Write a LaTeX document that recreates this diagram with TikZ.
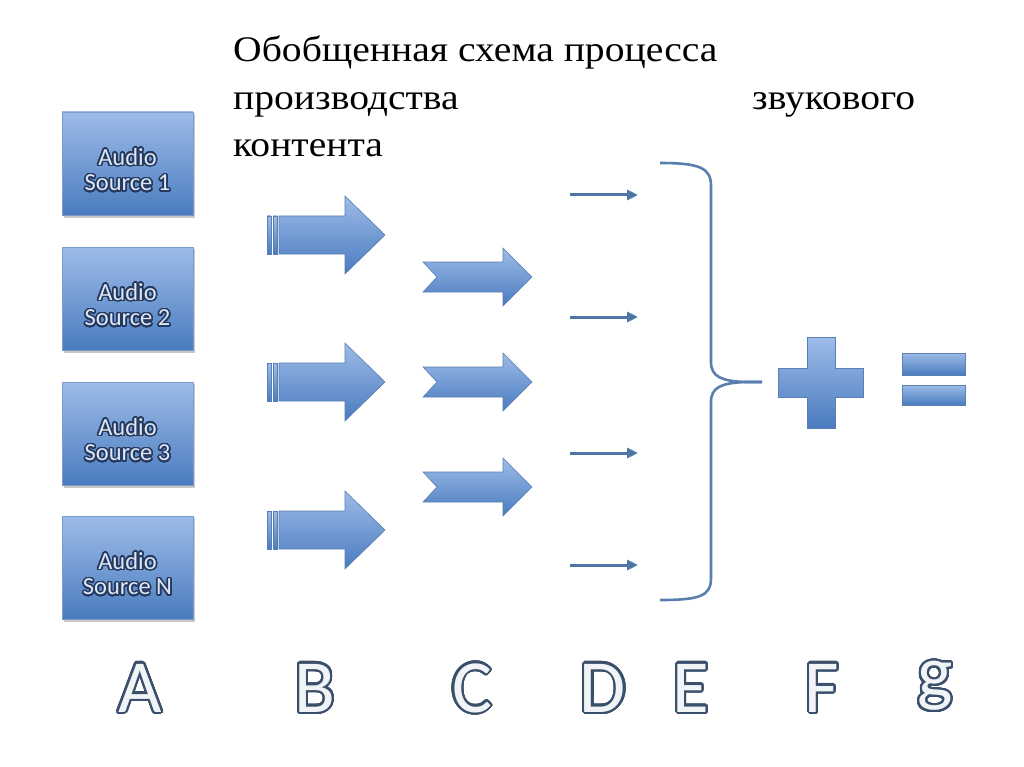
\documentclass[tikz,border=0pt]{standalone}
\usepackage{fontspec}
\setmainfont[FakeStretch=1.1]{Liberation Serif}
\newfontfamily\calib{Carlito}
\usepackage{contour}
\contournumber{40}
\definecolor{boxtop}{HTML}{9DBCE8}
\definecolor{boxbot}{HTML}{4A7BBF}
\definecolor{boxline}{HTML}{7C9CCB}
\definecolor{arrline}{HTML}{5A7FB2}
\definecolor{thin}{HTML}{4D76A6}
\definecolor{bracec}{HTML}{5A7FAF}
\definecolor{txtline}{HTML}{263A60}
\definecolor{txtfill}{HTML}{DCE6F4}
\definecolor{ltrline}{HTML}{3A4F6B}
\definecolor{ltrfill}{HTML}{F1F4F6}
\tikzset{
  srcbox/.style={draw=boxline, line width=0.6pt, top color=boxtop, bottom color=boxbot,
    minimum width=131pt, minimum height=103pt, inner sep=0pt},
  boxtxt/.style={align=center, inner sep=0pt, font=\calib\fontsize{24.5}{25.5}\selectfont},
  blueshape/.style={draw=arrline, line width=0.6pt, top color=boxtop, bottom color=boxbot},
  thinarrow/.style={draw=thin, line width=3pt, -{Triangle[length=11pt,width=10pt]}},
  brace/.style={draw=bracec, line width=2.6pt},
  letter/.style={inner sep=0pt, font=\calib\fontsize{75}{75}\selectfont},
  titletxt/.style={inner sep=0pt, align=left, font=\fontsize{36}{47.5}\selectfont}
}
\newcommand{\boxlbl}[1]{\contourlength{1.5pt}\contour{txtline}{\textcolor{txtfill}{#1}}}
\newcommand{\ltr}[1]{\contourlength{2.1pt}\contour{ltrline}{\textcolor{ltrfill}{#1}}}
\usetikzlibrary{arrows.meta}
\begin{document}
\begin{tikzpicture}[x=1pt,y=-1pt]
\useasboundingbox (0,0) rectangle (1024,767);
\fill[white] (0,0) rectangle (1024,767);

% title
\node[titletxt, anchor=base west] (title) at (233,157)
  {Обобщенная схема процесса\\\makebox[682pt][s]{производства звукового}\\контента};

% source boxes
\foreach \n/\y/\t in {1/163.5/1, 2/298.5/2, 3/433.5/3, 4/567.5/N}{
  \fill[black!22] (64,\y-49.5) rectangle (195,\y+54.5);
  \node[srcbox] (s\n) at (127.5,\y) {};
  \node[boxtxt] (s\n t) at (127.5,\y+7) {\boxlbl{Audio}\\\boxlbl{Source \t}};
}

% striped arrows (B)
\foreach \c in {235,382,530}{
  \path[blueshape] (267,\c-19) rectangle (271,\c+19);
  \path[blueshape] (273,\c-19) rectangle (277,\c+19);
  \path[blueshape] (279,\c-19) -- (345,\c-19) -- (345,\c-39) -- (385,\c) -- (345,\c+39)
     -- (345,\c+19) -- (279,\c+19) -- cycle;
}

% chevron arrows (C)
\foreach \c in {277,382,487}{
  \path[blueshape] (423,\c-15) -- (503,\c-15) -- (503,\c-29) -- (532,\c) -- (503,\c+29)
     -- (503,\c+15) -- (423,\c+15) -- (437,\c) -- cycle;
}

% thin arrows (D)
\foreach \i/\y in {1/195,2/317,3/453,4/565}{
  \coordinate (d\i s) at (570,\y);
  \coordinate (d\i e) at (638,\y);
  \draw[thinarrow] (d\i s) -- (d\i e);
}

% brace (E)
\coordinate (btop) at (660,163);
\coordinate (bbot) at (660,600);
\coordinate (btip) at (762,382);
\draw[brace] (btop) .. controls (700,163) and (711,168) .. (711,186) -- (711,362)
  .. controls (711,377) and (722,381) .. (745,382) -- (btip);
\draw[brace] (btip) -- (745,382) .. controls (722,383) and (711,387) .. (711,402)
  -- (711,578) .. controls (711,596) and (700,600) .. (bbot);

% plus (F)
\path[blueshape] (807,337) -- (835,337) -- (835,368) -- (863,368) -- (863,397) -- (835,397)
  -- (835,428) -- (807,428) -- (807,397) -- (778,397) -- (778,368) -- (807,368) -- cycle;

% equals (g)
\path[blueshape] (902,353) rectangle (965,375);
\path[blueshape] (902,385) rectangle (965,405);

% letters
\node[letter, anchor=base] (LA) at (140,712) {\ltr{A}};
\node[letter, anchor=base] (LB) at (315,712) {\ltr{B}};
\node[letter, anchor=base] (LC) at (472,712) {\ltr{C}};
\node[letter, anchor=base] (LD) at (603,712) {\ltr{D}};
\node[letter, anchor=base] (LE) at (691,712) {\ltr{E}};
\node[letter, anchor=base] (LF) at (822,712) {\ltr{F}};
\node[letter, anchor=south] (Lg) at (935,713) {\ltr{g}};
\end{tikzpicture}
\end{document}
